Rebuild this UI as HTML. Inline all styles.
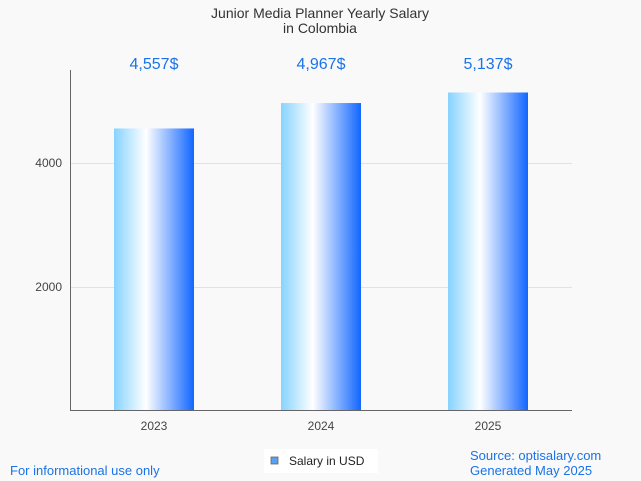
<!DOCTYPE html>
<html><head><meta charset="utf-8"><style>
body{margin:0;background:#f9f9f9;font-family:"Liberation Sans",sans-serif;}
svg{display:block}
</style></head><body>
<svg id="c" width="641" height="481">
<defs><linearGradient id="g" x1="0" x2="1" y1="0" y2="0">
<stop offset="0" stop-color="#86d3ff"/><stop offset="0.4" stop-color="#ffffff"/><stop offset="1" stop-color="#1166ff"/>
</linearGradient></defs>
<text x="320" y="18" text-anchor="middle" font-size="14" fill="#333">Junior Media Planner Yearly Salary</text>
<text x="320" y="33" text-anchor="middle" font-size="14" fill="#333">in Colombia</text>
<g id="grid"></g><g id="bars"></g>
<line x1="70.5" y1="70" x2="70.5" y2="411" stroke="#666"/>
<line x1="70" y1="410.5" x2="572" y2="410.5" stroke="#666"/>
<text x="10" y="475" font-size="13" fill="#1a73e8">For informational use only</text>
<text x="470" y="460" font-size="13" fill="#1a73e8">Source: optisalary.com</text>
<text x="470" y="475" font-size="13" fill="#1a73e8">Generated May 2025</text>
<g>
<rect x="264" y="449" width="114" height="24" fill="#fff"/>
<rect x="271" y="457" width="7" height="7" fill="#5aa0ee" stroke="#666" stroke-width="0.8"/>
<text x="289" y="465" font-size="12" fill="#222">Salary in USD</text>
</g>
</svg>
<script>
const categories=["2023","2024","2025"];
const values=[4557,4967,5137];
const labels=["4,557$","4,967$","5,137$"];
const ticks=[2000,4000];
const ns="http://www.w3.org/2000/svg";
const y=v=>411-v*0.062;
const x=i=>154+i*167;
function mk(t,a,p){const e=document.createElementNS(ns,t);for(const k in a)e.setAttribute(k,a[k]);p.appendChild(e);return e;}
const grid=document.getElementById('grid'),bars=document.getElementById('bars');
ticks.forEach(t=>{
const l=mk('line',{x1:70,x2:572,y1:Math.round(y(t))+0.5,y2:Math.round(y(t))+0.5,stroke:'#e2e2e2'},grid);


const tx=mk('text',{x:62,y:y(t)+4,'text-anchor':'end','font-size':12,fill:'#444'},grid);tx.textContent=t;


});
categories.forEach((c,i)=>{
const r=mk('rect',{x:x(i)-40,y:y(values[i]),width:80,height:411-y(values[i]),fill:'url(#g)'},bars);


const v=mk('text',{x:x(i),y:69,'text-anchor':'middle','font-size':16,fill:'#1a73e8'},bars);v.textContent=labels[i];


const t=mk('text',{x:x(i),y:430,'text-anchor':'middle','font-size':12,fill:'#444'},bars);t.textContent=c;


});
</script>
</body></html>
